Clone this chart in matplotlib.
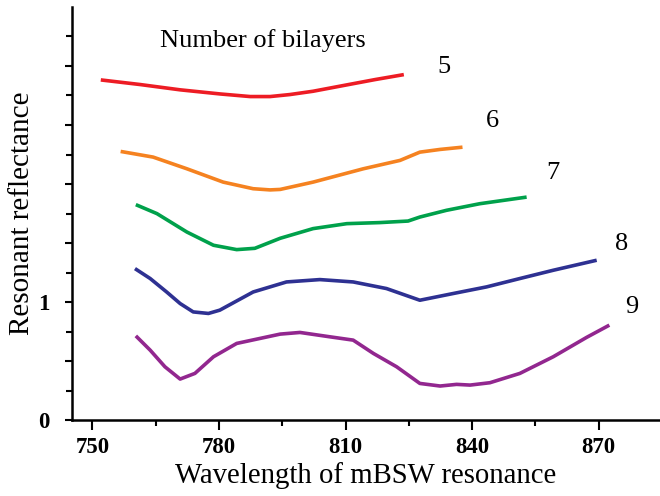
import matplotlib
matplotlib.use("Agg")
import matplotlib.pyplot as plt
from matplotlib.ticker import FixedLocator, FixedFormatter

plt.rcParams['font.family'] = ['Liberation Serif', 'DejaVu Serif']

# --- data (wavelength nm, resonant reflectance) ---
wl_5 = [752.0, 761.3, 770.8, 780.3, 787.4, 792.1, 796.8, 802.3, 810.3, 817.0, 823.8]
r_5 = [2.882, 2.843, 2.798, 2.763, 2.741, 2.741, 2.758, 2.786, 2.840, 2.885, 2.927]

wl_6 = [756.7, 764.4, 772.4, 781.0, 788.1, 792.1, 794.5, 802.3, 814.2, 822.9, 827.6, 832.4, 837.7]
r_6 = [2.276, 2.228, 2.129, 2.016, 1.960, 1.950, 1.954, 2.016, 2.129, 2.200, 2.270, 2.293, 2.312]

wl_7 = [760.3, 765.3, 772.4, 778.7, 784.2, 788.5, 794.5, 802.3, 810.3, 818.1, 824.8, 827.6, 833.9, 841.8, 852.9]
r_7 = [1.825, 1.749, 1.593, 1.481, 1.444, 1.455, 1.540, 1.622, 1.664, 1.673, 1.686, 1.720, 1.777, 1.833, 1.889]

wl_8 = [760.1, 763.7, 767.6, 770.8, 773.9, 777.5, 780.2, 788.1, 796.0, 803.9, 811.8, 819.7, 827.6,
        835.5, 843.4, 851.3, 859.2, 869.5]
r_8 = [1.283, 1.199, 1.085, 0.987, 0.916, 0.903, 0.931, 1.085, 1.170, 1.190, 1.170, 1.114, 1.015,
       1.072, 1.128, 1.199, 1.269, 1.354]

wl_9 = [760.3, 763.7, 767.2, 770.8, 774.3, 778.7, 784.2, 794.5, 799.2, 806.3, 811.8, 816.6, 822.1,
        827.6, 832.4, 836.3, 839.5, 844.2, 851.3, 859.2, 867.1, 872.5]
r_9 = [0.713, 0.592, 0.451, 0.347, 0.395, 0.536, 0.649, 0.728, 0.742, 0.705, 0.677, 0.564, 0.451,
       0.310, 0.288, 0.302, 0.296, 0.316, 0.395, 0.536, 0.700, 0.804]

bilayers = ['5', '6', '7', '8', '9']
label_x = [833.4, 844.9, 859.0, 875.3, 877.8]
label_y = [2.99, 2.53, 2.09, 1.49, 0.96]

x_ticks = [750, 780, 810, 840, 870]
x_minor = [765, 795, 825, 855]
y_ticks = [0, 0.5, 1, 1.5, 2, 2.5, 3]
y_labels = ['0', '', '1', '', '', '', '']
y_minor = [0.25, 0.75, 1.25, 1.75, 2.25, 2.75, 3.25]

COLORS = ['#ED1C24', '#F58220', '#00A14B', '#2E3192', '#92278F']

fig = plt.figure(figsize=(6.6, 4.96), dpi=100)
ax = fig.add_axes([0.1086, 0.1532, 0.8914, 0.8327])

series = [(wl_5, r_5), (wl_6, r_6), (wl_7, r_7), (wl_8, r_8), (wl_9, r_9)]
for (wl, r), c in zip(series, COLORS):
    ax.plot(wl, r, color=c, lw=2.6, solid_capstyle='butt', solid_joinstyle='round')

for name, lx, ly in zip(bilayers, label_x, label_y):
    ax.text(lx, ly, name, fontsize=19, ha='center', va='center')
ax.text(766.0, 3.215, 'Number of bilayers', fontsize=19, ha='left', va='center')

ax.set_xlim(745.1, 884.5)
ax.set_ylim(0, 3.5)

ax.xaxis.set_major_locator(FixedLocator(x_ticks))
ax.xaxis.set_minor_locator(FixedLocator(x_minor))
ax.yaxis.set_major_locator(FixedLocator(y_ticks))
ax.yaxis.set_major_formatter(FixedFormatter(y_labels))
ax.yaxis.set_minor_locator(FixedLocator(y_minor))

for lab in ax.get_xticklabels() + ax.get_yticklabels():
    lab.set_fontweight('bold')
    lab.set_fontsize(16.5)

ax.tick_params(axis='x', which='major', length=7, width=1.5, pad=5)
ax.tick_params(axis='x', which='minor', length=4, width=1.5)
ax.tick_params(axis='y', which='major', length=5, width=1.5, pad=11)
ax.tick_params(axis='y', which='minor', length=4, width=1.5)

for side in ['top', 'right']:
    ax.spines[side].set_visible(False)
for side in ['left', 'bottom']:
    ax.spines[side].set_linewidth(1.8)

ax.set_xlabel('Wavelength of mBSW resonance', fontsize=20.7, labelpad=3)
ax.set_ylabel('Resonant reflectance', fontsize=21, labelpad=2)

fig.savefig('out.png', dpi=100)
